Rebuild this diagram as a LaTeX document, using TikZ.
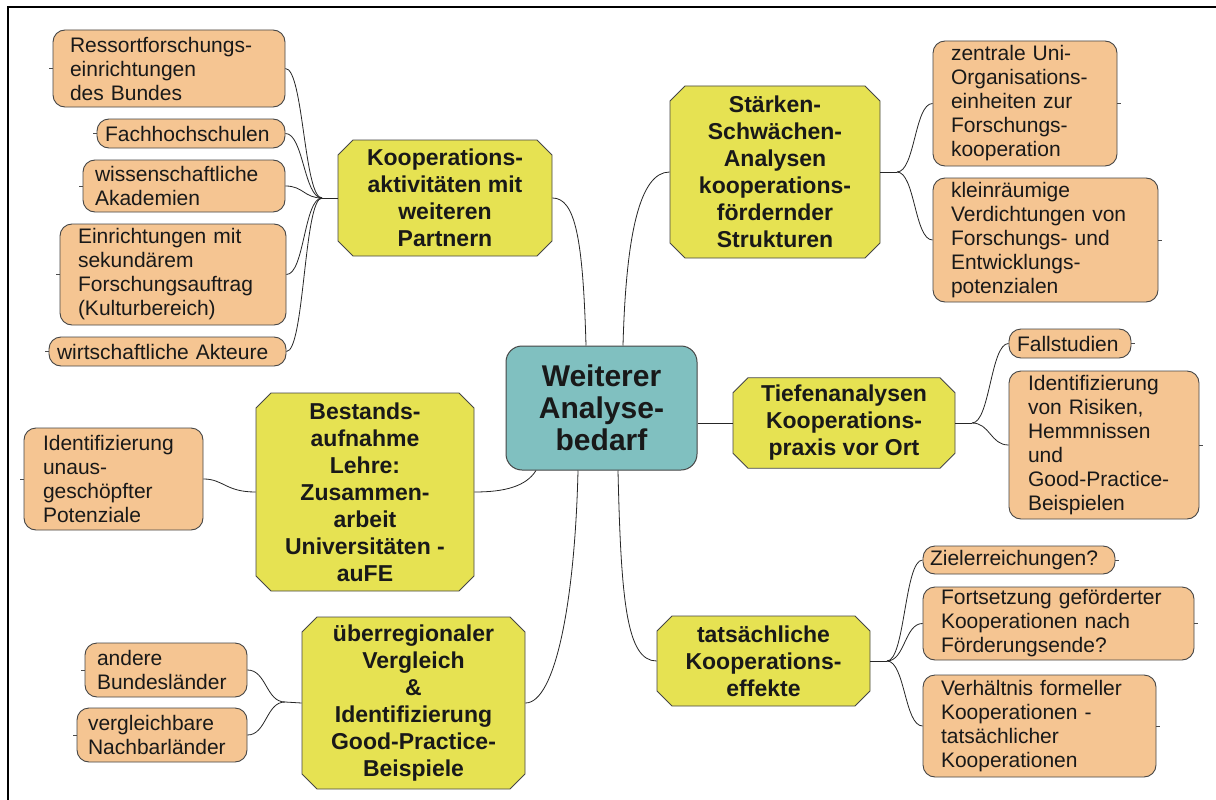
\documentclass[tikz,border=0pt]{standalone}
\usepackage{fontspec}
\setmainfont{Liberation Sans}
\usetikzlibrary{shapes.misc}
\definecolor{orangefill}{RGB}{245,197,146}
\definecolor{yellowfill}{RGB}{230,226,82}
\definecolor{tealfill}{RGB}{128,192,192}
\definecolor{edgecol}{RGB}{70,70,70}
\begin{document}
\begin{tikzpicture}[x=1pt,y=-1pt,
  leaf/.style={draw=edgecol, line width=0.9pt, fill=orangefill, rounded corners=12pt,
    inner sep=0pt, align=left, text=black!90, font=\fontsize{21}{24}\selectfont},
  topic/.style={chamfered rectangle, chamfered rectangle xsep=7.5pt, chamfered rectangle ysep=7.5pt,
    draw=edgecol, line width=0.9pt, fill=yellowfill, inner sep=0pt, align=center,
    text=black!90, font=\bfseries\fontsize{23}{27}\selectfont},
  hub/.style={draw=edgecol, line width=1pt, fill=tealfill, rounded corners=16pt, inner sep=0pt,
    align=center, text=black!90, font=\bfseries\fontsize{30}{32}\selectfont},
  link/.style={line width=0.8pt, draw=black!85},
  stub/.style={line width=0.8pt, draw=black!70}]
\useasboundingbox (0,0) rectangle (1216,800);
\fill[white] (0,0) rectangle (1216,800);
\draw[line width=1.8pt] (8,800) -- (8,7) -- (1216,7);

% hub
\node[hub, minimum width=191pt, minimum height=124pt] (hub) at (601.5,408) {Weiterer\\Analyse-\\bedarf};

% topics
\node[topic, minimum width=214pt, minimum height=116pt] (koop) at (445,198) {Kooperations-\\aktivitäten mit\\weiteren\\Partnern};
\node[topic, minimum width=210pt, minimum height=172pt] (staerken) at (775,172) {Stärken-\\Schwächen-\\Analysen\\kooperations-\\fördernder\\Strukturen};
\node[topic, minimum width=222pt, minimum height=86pt] (tiefen) at (844,423) {Tiefenanalysen\\Kooperations-\\praxis vor Ort};
\node[topic, minimum width=213pt, minimum height=90pt] (effekte) at (763.5,661) {tatsächliche\\Kooperations-\\effekte};
\node[topic, minimum width=218pt, minimum height=198pt] (bestand) at (365,492) {Bestands-\\aufnahme\\Lehre:\\Zusammen-\\arbeit\\Universitäten -\\auFE};
\node[topic, minimum width=223pt, minimum height=172pt] (vergleich) at (413.5,703) {überregionaler\\Vergleich\\\&\\Identifizierung\\Good-Practice-\\Beispiele};

% left-top leaves
\node[leaf, minimum width=232pt, minimum height=77pt, text width=198pt] (ressort) at (169,68.5) {Ressortforschungs-\\einrichtungen\\des~Bundes};
\node[leaf, minimum width=188pt, minimum height=29pt, text width=172pt] (fh) at (191,133.5) {Fachhochschulen};
\node[leaf, minimum width=202pt, minimum height=52pt, text width=178pt] (akad) at (184,186) {wissenschaftliche\\Akademien};
\node[leaf, minimum width=226pt, minimum height=101pt, text width=190pt] (einr) at (173,274.5) {Einrichtungen~mit\\sekundärem\\Forschungsauftrag\\(Kulturbereich)};
\node[leaf, minimum width=237pt, minimum height=29pt, text width=221pt] (wirt) at (167.5,351.5) {wirtschaftliche~Akteure};

% left middle / bottom leaves
\node[leaf, minimum width=179pt, minimum height=102pt, text width=141pt] (unaus) at (113.5,479) {Identifizierung\\unaus-\\geschöpfter\\Potenziale};
\node[leaf, minimum width=162pt, minimum height=54pt, text width=138pt] (andere) at (166,670) {andere\\Bundesländer};
\node[leaf, minimum width=170pt, minimum height=54pt, text width=148pt] (nachbar) at (162,735) {vergleichbare\\Nachbarländer};

% right leaves
\node[leaf, minimum width=184pt, minimum height=125pt, text width=148pt] (zentral) at (1025,103.5) {zentrale~Uni-\\Organisations-\\einheiten~zur\\Forschungs-\\kooperation};
\node[leaf, minimum width=225pt, minimum height=124pt, text width=189pt] (klein) at (1045.5,240) {kleinräumige\\Verdichtungen~von\\Forschungs-~und\\Entwicklungs-\\potenzialen};
\node[leaf, minimum width=122pt, minimum height=29pt, text width=106pt] (fall) at (1070,343.5) {Fallstudien};
\node[leaf, minimum width=190pt, minimum height=148pt, text width=152pt] (risiken) at (1104,445) {Identifizierung\\von~Risiken,\\Hemmnissen\\und\\Good-Practice-\\Beispielen};
\node[leaf, minimum width=192pt, minimum height=28pt, text width=178pt] (ziel) at (1019,560) {Zielerreichungen?};
\node[leaf, minimum width=271pt, minimum height=73pt, text width=235pt] (fort) at (1058.5,623.5) {Fortsetzung~geförderter\\Kooperationen~nach\\Förderungsende?};
\node[leaf, minimum width=233pt, minimum height=102pt, text width=197pt] (verh) at (1039.5,726) {Verhältnis~formeller\\Kooperationen~-\\tatsächlicher\\Kooperationen};

% junctions
\coordinate (jk) at (322,198);
\coordinate (js) at (897,172);
\coordinate (jt) at (972,423);
\coordinate (je) at (887,661);
\coordinate (jv) at (285,702);

% hub links
\draw[link] ([xshift=-15.5pt]hub.north) .. controls +(-3,-106) and +(23,0) .. (koop.east);
\draw[link] ([xshift=21.5pt]hub.north) .. controls +(3,-110) and +(-30,0) .. (staerken.west);
\draw[link] (tiefen.west -| hub.east) -- (tiefen.west);
\draw[link] ([xshift=16.5pt]hub.south) .. controls +(3,130) and +(-30,0) .. (effekte.west);
\draw[link] ([xshift=-23.5pt]hub.south) .. controls +(-3,130) and +(30,0) .. (vergleich.east);
\draw[link] ([xshift=-65.5pt]hub.south) .. controls +(-10,16) and +(30,0) .. (bestand.east);

% topic to leaves
\draw[link] (koop.west) -- (jk);
\foreach \n in {ressort,fh,akad,einr,wirt}
  \draw[link] (jk) .. controls +(-18,0) and +(18,0) .. (\n.east);
\draw[link] (staerken.east) -- (js);
\foreach \n in {zentral,klein}
  \draw[link] (js) .. controls +(18,0) and +(-18,0) .. (\n.west);
\draw[link] (tiefen.east) -- (jt);
\foreach \n in {fall,risiken}
  \draw[link] (jt) .. controls +(18,0) and +(-18,0) .. (\n.west);
\draw[link] (effekte.east) -- (je);
\foreach \n in {ziel,fort,verh}
  \draw[link] (je) .. controls +(18,0) and +(-18,0) .. (\n.west);
\draw[link] (vergleich.west) -- (jv);
\foreach \n in {andere,nachbar}
  \draw[link] (jv) .. controls +(-19,0) and +(19,0) .. (\n.east);
\draw[link] (bestand.west) .. controls +(-30,0) and +(20,0) .. (unaus.east);

% stubs
\foreach \n in {ressort,fh,akad,einr,wirt,unaus,andere,nachbar}
  \draw[stub] (\n.west) -- +(-4,0);
\foreach \n in {zentral,klein,fall,risiken,ziel,fort,verh}
  \draw[stub] (\n.east) -- +(4,0);
\end{tikzpicture}
\end{document}
